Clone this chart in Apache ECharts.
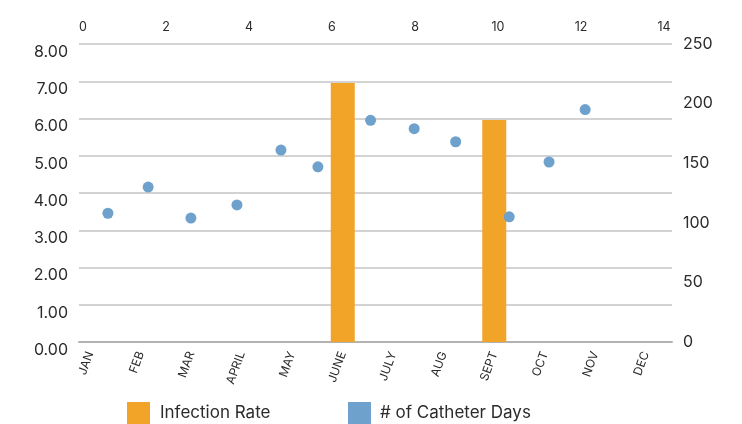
<!DOCTYPE html>
<html>
<head>
<meta charset="utf-8">
<script src="https://cdn.jsdelivr.net/npm/echarts@6/dist/echarts.min.js"></script>
<style>
html,body{margin:0;padding:0;background:#fff;}
#chart{width:742px;height:424px;}
</style>
</head>
<body>
<div id="chart"></div>
<script>
// ---- data ----
const months = ['JAN','FEB','MAR','APRIL','MAY','JUNE','JULY','AUG','SEPT','OCT','NOV','DEC'];
const infectionRate = [0,0,0,0,0,6.95,0,0,5.96,0,0,0];
const catheterX = [0.60,1.57,2.60,3.71,4.77,5.66,6.93,7.98,8.98,10.27,11.23,12.10];
const catheterDays = [108,130,104,115,161,147,186,179,168,105,151,195];
const rateTicks = {min:0, max:8, interval:1};
const daysTicks = {min:0, max:250, interval:50};
const topTicks = {min:0, max:14, interval:2};

const FONT = 'Inter, "Open Sans", sans-serif';
const TXT = '#2b2b2b';
const ORANGE = '#F2A428';
const BLUE = '#6EA1CB';

const chart = echarts.init(document.getElementById('chart'), null, {renderer:'canvas'});
const option = {
  animation:false,
  backgroundColor:'#fff',
  textStyle:{fontFamily:FONT, color:TXT},
  grid:[
    {left:79, right:70, top:44, bottom:82},
    {left:83, right:78, top:44, bottom:82},
    {left:65, right:71, top:44, bottom:82}
  ],
  legend:[
    {data:['Infection Rate'], left:127, top:402, padding:0, icon:'rect', itemWidth:23, itemHeight:22,
     textStyle:{fontFamily:FONT, fontSize:17, color:TXT, padding:[0,0,0,5]}},
    {data:['# of Catheter Days'], left:348, top:402, padding:0, icon:'rect', itemWidth:23, itemHeight:22,
     textStyle:{fontFamily:FONT, fontSize:17, color:TXT, padding:[0,0,0,4]}}
  ],
  xAxis:[
    {gridIndex:0, type:'value', min:0, max:1, position:'bottom',
     axisLine:{show:true, lineStyle:{color:'#b3b3b3', width:2}}, axisTick:{show:false},
     axisLabel:{show:false}, splitLine:{show:false}},
    {gridIndex:1, type:'value', position:'top', min:topTicks.min, max:topTicks.max, interval:topTicks.interval,
     axisLine:{show:false}, axisTick:{show:false}, splitLine:{show:false},
     axisLabel:{fontFamily:FONT, fontSize:12.5, color:TXT, margin:10}},
    {gridIndex:2, type:'category', data:months, position:'bottom',
     axisLine:{show:false}, axisTick:{show:false}, splitLine:{show:false},
     axisLabel:{fontFamily:FONT, fontSize:12, color:TXT, rotate:70, margin:10, interval:0}}
  ],
  yAxis:[
    {gridIndex:0, type:'value', position:'left', min:rateTicks.min, max:rateTicks.max, interval:rateTicks.interval,
     axisLine:{show:false}, axisTick:{show:false},
     axisLabel:{fontFamily:FONT, fontSize:16, color:TXT, margin:11, verticalAlign:'top',
       formatter:v=>v.toFixed(2)},
     splitLine:{show:true, lineStyle:{color:'#c4c4c4', width:1.5}}},
    {gridIndex:0, type:'value', position:'right', min:daysTicks.min, max:daysTicks.max, interval:daysTicks.interval,
     axisLine:{show:false}, axisTick:{show:false}, splitLine:{show:false},
     axisLabel:{fontFamily:FONT, fontSize:16, color:TXT, margin:11}},
    {gridIndex:1, type:'value', min:daysTicks.min, max:daysTicks.max, show:false, splitLine:{show:false}},
    {gridIndex:2, type:'value', min:rateTicks.min, max:rateTicks.max, show:false, splitLine:{show:false}}
  ],
  series:[
    {name:'Infection Rate', type:'bar', xAxisIndex:2, yAxisIndex:3, barWidth:24,
     itemStyle:{color:ORANGE}, data:infectionRate},
    {name:'# of Catheter Days', type:'scatter', xAxisIndex:1, yAxisIndex:2, symbol:'circle', symbolSize:11,
     itemStyle:{color:BLUE, opacity:1},
     data:catheterX.map((x,i)=>[x, catheterDays[i]])}
  ]
};
chart.setOption(option);
</script>
</body>
</html>
